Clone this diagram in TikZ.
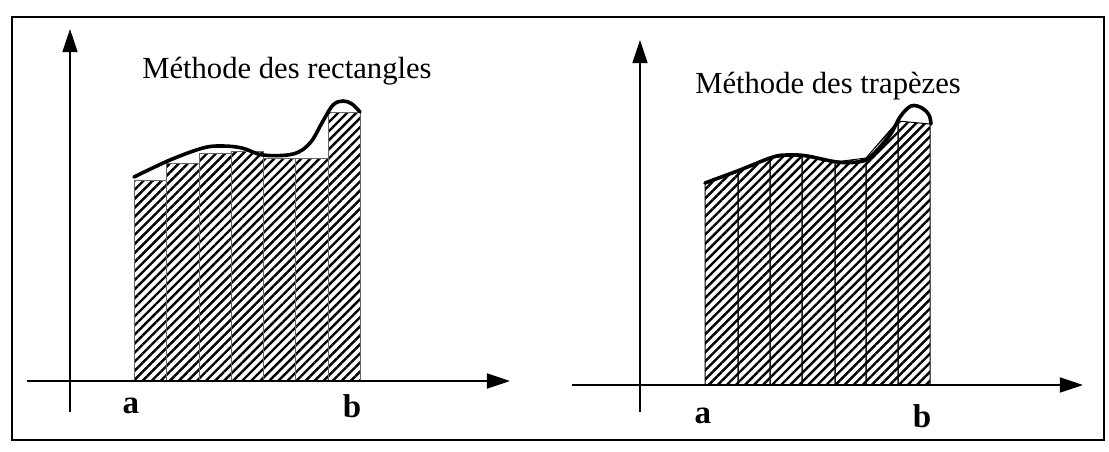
\documentclass[tikz,border=0pt]{standalone}
\usepackage{fontspec}
\setmainfont{Liberation Serif}
\usetikzlibrary{arrows.meta,patterns.meta}

\begin{document}
\begin{tikzpicture}[
    x=0.25mm, y=-0.25mm,
    frame/.style={line width=0.7mm},
    axis/.style={line width=0.35mm, -{Triangle[length=5.8mm,width=3.8mm]}},
    hatch/.style={pattern={Lines[angle=45,distance=1.6mm,line width=0.6mm]}},
    rectline/.style={draw=black!60, line width=0.15mm},
    trapline/.style={draw=black, line width=0.25mm},
    curve/.style={line width=0.9mm, line join=round, line cap=round},
    title/.style={font=\fontsize{21.8}{26}\selectfont, anchor=base west, inner sep=0pt},
    bound/.style={font=\fontsize{23.5}{28}\selectfont\bfseries, anchor=base, inner sep=0pt}
]
\useasboundingbox (0,0) rectangle (1109,451);

% --- Frame ---
\draw [frame] (12,17) rectangle (1104,440);

% --- Left: methode des rectangles ---
\coordinate (ybot1) at (70,412);
\coordinate (ytop1) at (70,29);
\coordinate (xbeg1) at (27,381);
\coordinate (xend1) at (510,381);

\foreach \xa/\xb/\h in {134/166/180, 166/199/163, 199/231/153, 231/263/151,
                        263/295/158, 295/328/158, 328/360/112}
    \filldraw [hatch, rectline] (\xa,381) rectangle (\xb,\h);

\draw [curve] plot [smooth, tension=0.6] coordinates {(134,177) (170,160) (203,148)
    (222,146) (242,148) (263,155) (293,154) (310,143) (323,121) (333,105)
    (343,101) (352,104) (360,112)};

\draw [axis] (ybot1) -- (ytop1);
\draw [axis] (xbeg1) -- (xend1);

\node [title] (title1) at (142,78) {Méthode des rectangles};
\node [bound] (a1) at (131,413) {a};
\node [bound] (b1) at (352,417) {b};

% --- Right: methode des trapezes ---
\coordinate (ybot2) at (640,412);
\coordinate (ytop2) at (640,40);
\coordinate (xbeg2) at (572,385);
\coordinate (xend2) at (1083,385);

\foreach \xa/\ya/\xb/\yb in {705/183/738/171, 738/171/770/158, 770/158/802/155,
                             802/155/835/162, 835/162/866/158, 866/158/898/121,
                             898/121/930/124}
    \filldraw [hatch, trapline] (\xa,385) -- (\xa,\ya) -- (\xb,\yb) -- (\xb,385) -- cycle;

\draw [curve] plot [smooth, tension=0.6] coordinates {(705,183) (740,170) (773,157)
    (790,155) (807,156) (837,162) (857,162) (870,157) (890,135) (900,117)
    (911,106) (922,108) (929,115) (931,124)};

\draw [axis] (ybot2) -- (ytop2);
\draw [axis] (xbeg2) -- (xend2);

\node [title] (title2) at (695,93) {Méthode des trapèzes};
\node [bound] (a2) at (703,423) {a};
\node [bound] (b2) at (922,427) {b};

\end{tikzpicture}
\end{document}
